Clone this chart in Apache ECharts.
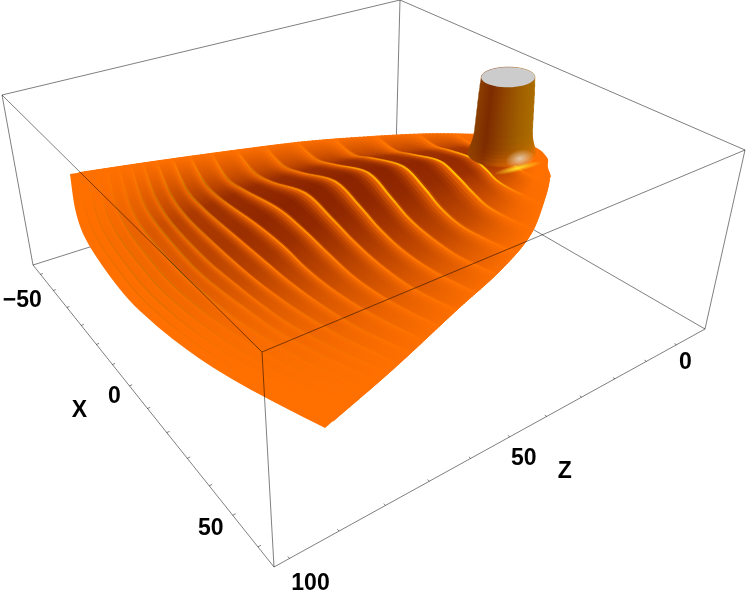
<!DOCTYPE html>
<html>
<head>
<meta charset="utf-8">
<style>
  html, body { margin: 0; background: #fff; }
  #chart { width: 747px; height: 600px; }
</style>
<script src="https://cdn.jsdelivr.net/npm/echarts@6/dist/echarts.min.js"></script>
</head>
<body>
<div id="chart"></div>
<script>
// axis ranges and ticks
const xRange = [-66, 66];
const zRange = [-10, 103];
const xTickLabels = [-50, 0, 50];
const zTickLabels = [0, 50, 100];
const xTickMarks = [-60, -50, -40, -30, -20, -10, 0, 10, 20, 30, 40, 50, 60];
const zTickMarks = [0, 10, 20, 30, 40, 50, 60, 70, 80, 90, 100];

// fan outline: x of both edges at given z, far edge shape across the fan
const edgeZ = [0, 3, 12, 25, 39, 55, 75, 93.2];
const edgeUpperX = [-9, -12.3, -20, -28.3, -36, -42.6, -50, -56.1];
const edgeLowerX = [16, 20.5, 29, 39.5, 46.8, 53, 61, 67.5];
const stationU = [0, 0.176, 0.313, 0.496, 0.606, 0.686, 0.778, 0.882, 1];
const stationBump = [0, 0.58, 0.86, 1, 0.955, 0.86, 0.69, 0.4, 0];
const planeHeight = 55;
const farZ = 103.5;

// z of every ridge crest along the middle of the fan
const crestZ = [6.5, 15, 25.5, 36, 45.5, 54, 61.5, 68, 73.5, 78, 82, 85.5, 88.5, 91.5, 94.5, 97, 99.3, 101.3];

// how dark the slope behind each crest is, per station across the fan (0-100)
const ridgeDark = [
  [0, 10, 50, 70, 60, 30, 5, 0, 0],
  [0, 40, 75, 85, 78, 50, 25, 5, 0],
  [0, 45, 80, 92, 85, 60, 35, 12, 0],
  [0, 45, 82, 97, 90, 70, 50, 22, 0],
  [0, 45, 85, 100, 93, 75, 55, 28, 3],
  [0, 45, 88, 100, 95, 78, 55, 28, 5],
  [0, 45, 90, 100, 95, 78, 52, 26, 5],
  [0, 45, 90, 100, 93, 74, 48, 22, 4],
  [0, 45, 88, 95, 85, 64, 40, 18, 3],
  [0, 45, 82, 85, 75, 54, 32, 14, 2],
  [0, 40, 72, 74, 62, 44, 26, 11, 1],
  [0, 34, 60, 58, 48, 33, 19, 8, 0],
  [0, 26, 46, 44, 35, 24, 13, 6, 0],
  [0, 18, 32, 30, 24, 16, 9, 4, 0],
  [0, 11, 19, 18, 15, 10, 6, 3, 0],
  [0, 6, 11, 11, 9, 6, 4, 2, 0],
  [0, 3, 6, 6, 5, 3, 2, 1, 0],
  [0, 1, 2, 2, 2, 1, 1, 0, 0]
];

// crest line strength per station: above 0 bright, below 0 dull
const ridgeGlint = [
  [0, 0, 0, 30, 60, 40, 0, 0, 0],
  [0, 0, 30, 85, 100, 70, 30, 0, 0],
  [0, -10, 30, 80, 100, 70, 25, 0, 0],
  [0, -20, 20, 70, 95, 60, 15, 0, 0],
  [0, -30, 10, 60, 80, 40, 5, 0, 0],
  [0, -40, -5, 40, 60, 30, 0, -5, 0],
  [0, -50, -15, 25, 45, 15, 0, -10, 0],
  [0, -60, -30, 10, 25, 10, 0, -10, 0],
  [0, -70, -40, 0, 15, 5, -5, -15, 0],
  [0, -70, -50, -5, 5, 0, -10, -15, 0],
  [0, -60, -60, -20, 0, -5, -15, -15, 0],
  [0, -50, -60, -35, -10, -10, -15, -15, 0],
  [0, -40, -60, -50, -25, -15, -15, -10, 0],
  [0, -30, -50, -50, -35, -20, -15, -10, 0],
  [0, -25, -45, -45, -35, -20, -10, -5, 0],
  [0, -20, -40, -40, -30, -20, -10, -5, 0],
  [0, -15, -30, -35, -30, -15, -5, 0, 0],
  [0, -10, -20, -25, -20, -10, -5, 0, 0]
];

// height of each crest above the flat plane, per station
const ridgeLift = [
  [0, 0, 1, 3, 2, 1, 0, 0, 0],
  [0, 0, 3, 6, 4, 1, 0, 0, 0],
  [0, 1, 6, 12, 9, 5, 1, 0, 0],
  [0, 2, 9, 16, 11, 5, 1, 0, 0],
  [0, 3, 10, 19, 13, 7, 3, 0, 0],
  [0, 3, 10, 20, 15, 9, 4, 1, 0],
  [0, 3, 9, 19, 15, 10, 5, 1, 0],
  [0, 2, 8, 15, 13, 9, 4, 1, 0],
  [0, 2, 6, 11, 10, 6, 3, 1, 0],
  [0, 1, 4, 7, 6, 4, 2, 0, 0],
  [0, 1, 2, 4, 3, 2, 1, 0, 0],
  [0, 1, 1, 2, 2, 1, 0, 0, 0],
  [0, 0, 1, 1, 1, 1, 0, 0, 0],
  [0, 0, 0, 1, 1, 0, 0, 0, 0],
  [0, 0, 0, 0, 0, 0, 0, 0, 0],
  [0, 0, 0, 0, 0, 0, 0, 0, 0],
  [0, 0, 0, 0, 0, 0, 0, 0, 0],
  [0, 0, 0, 0, 0, 0, 0, 0, 0]
];

// darkness going from a crest inwards to the next crest
const bandEdges = [0, 0.04, 0.12, 0.2, 0.3, 0.4, 0.5, 0.6, 0.7, 0.8, 0.9, 1];
const bandProfile = [0.75, 1, 1, 1, 1, 1, 0.92, 0.8, 0.6, 0.33, -0.2];

// flat part around the foot of the column
const skirtX = [5, 12, 16.1, 21, 16, -9, -5];
const skirtZ = [-5.3, -3.5, -0.2, 3.4, 8, 3, -3];

// the column
const stemCenter = [1.7, 3.1];
const stemHeight = [55, 57, 59, 61, 63, 66, 70, 75, 80, 85, 90, 95, 100];
const stemRadius = [8.8, 8.4, 8.1, 7.8, 7.6, 7.4, 7.3, 7.2, 7.1, 7, 6.9, 6.75, 6.6];
const stemBlend = [0.7, 0.5, 0.3, 0.18, 0.08, 0.03, 0, 0, 0, 0, 0, 0];

// box corners in the picture, the camera of the plot
const cameraTop = [[400, 0], [745, 150], [262, 352], [2, 95]];
const cameraBottom = [[396, 150], [705, 329], [274, 567], [33, 265]];

function squareToQuad(q) {
  const dx1 = q[1][0] - q[2][0], dx2 = q[3][0] - q[2][0], sx = q[0][0] - q[1][0] + q[2][0] - q[3][0];
  const dy1 = q[1][1] - q[2][1], dy2 = q[3][1] - q[2][1], sy = q[0][1] - q[1][1] + q[2][1] - q[3][1];
  const d = dx1 * dy2 - dx2 * dy1;
  const g = (sx * dy2 - dx2 * sy) / d, h = (dx1 * sy - sx * dy1) / d;
  return [q[1][0] - q[0][0] + g * q[1][0], q[3][0] - q[0][0] + h * q[3][0], q[0][0],
    q[1][1] - q[0][1] + g * q[1][1], q[3][1] - q[0][1] + h * q[3][1], q[0][1], g, h];
}

// x, z, height (0-100) to picture position
function project(x, z, h) {
  const c = 1 - h / 100;
  const m = squareToQuad(cameraTop.map((p, i) => [
    p[0] + (cameraBottom[i][0] - p[0]) * c,
    p[1] + (cameraBottom[i][1] - p[1]) * c
  ]));
  const a = (x - xRange[0]) / (xRange[1] - xRange[0]);
  const b = (z - zRange[0]) / (zRange[1] - zRange[0]);
  const w = m[6] * a + m[7] * b + 1;
  return [(m[0] * a + m[1] * b + m[2]) / w, (m[3] * a + m[4] * b + m[5]) / w];
}

// x on a fan edge at height z, smooth through the table
function edgeAt(xs, z) {
  const n = edgeZ.length;
  let i = 1;
  while (i < n - 1 && z > edgeZ[i]) i++;
  const h = edgeZ[i] - edgeZ[i - 1], t = Math.max(0, Math.min(1, (z - edgeZ[i - 1]) / h));
  const slope = j => {
    const a = Math.max(j - 1, 0), b = Math.min(j + 1, n - 1);
    return (xs[b] - xs[a]) / (edgeZ[b] - edgeZ[a]);
  };
  const m0 = slope(i - 1) * h, m1 = slope(i) * h, t2 = t * t, t3 = t2 * t;
  return (2 * t3 - 3 * t2 + 1) * xs[i - 1] + (t3 - 2 * t2 + t) * m0 + (-2 * t3 + 3 * t2) * xs[i] + (t3 - t2) * m1;
}

// the nine stations of one ring, zc is the z in the middle of the fan
function ringStations(zc, lift) {
  const zEnd = zc * 0.9;
  const xl = edgeAt(edgeUpperX, zEnd), xr = edgeAt(edgeLowerX, zEnd);
  return stationU.map((u, j) => project(xl + (xr - xl) * u, zEnd + (zc - zEnd) * stationBump[j], planeHeight + lift[j]));
}

function smoothLine(pts) {
  const out = [];
  for (let i = 0; i < pts.length - 1; i++) {
    const p0 = pts[Math.max(i - 1, 0)], p1 = pts[i], p2 = pts[i + 1], p3 = pts[Math.min(i + 2, pts.length - 1)];
    for (let s = 0; s < 5; s++) {
      const t = s / 5, t2 = t * t, t3 = t2 * t;
      out.push([0, 1].map(d => 0.5 * (2 * p1[d] + (p2[d] - p0[d]) * t + (2 * p0[d] - 5 * p1[d] + 4 * p2[d] - p3[d]) * t2 + (3 * p1[d] - p0[d] - 3 * p2[d] + p3[d]) * t3)));
    }
  }
  out.push(pts[pts.length - 1]);
  return out;
}

function orange(d) {
  return 'rgb(' + Math.round(Math.min(255, 255 - 117 * d)) + ',' + Math.round(112 - 76 * d) + ',0)';
}

// gradient running along a ring, one stop per station
function ringGradient(pts, colors) {
  const p0 = pts[0], p1 = pts[pts.length - 1];
  const dx = p1[0] - p0[0], dy = p1[1] - p0[1], len = dx * dx + dy * dy;
  let last = 0;
  const stops = pts.map((p, j) => {
    last = Math.max(last, Math.min(1, ((p[0] - p0[0]) * dx + (p[1] - p0[1]) * dy) / len));
    return { offset: last, color: colors[j] };
  });
  return new echarts.graphic.LinearGradient(p0[0], p0[1], p1[0], p1[1], stops, true);
}

const zeroLift = stationU.map(() => 0);
const bands = [];
crestZ.forEach((z, k) => {
  for (let b = bandProfile.length - 1; b >= 0; b--) bands.push([k, b]);
});

function renderBand(params, api) {
  const k = bands[params.dataIndex][0], b = bands[params.dataIndex][1];
  const zOuter = crestZ[k], zInner = k > 0 ? crestZ[k - 1] : 1;
  const liftOuter = ridgeLift[k], liftInner = k > 0 ? ridgeLift[k - 1] : zeroLift;
  const ringAt = f => ringStations(zOuter + (zInner - zOuter) * f,
    liftOuter.map((l, j) => l + (liftInner[j] - l) * f));
  const outer = ringAt(bandEdges[b]);
  const inner = ringAt(Math.min(1.02, bandEdges[b + 1] + 0.03));
  const colors = ridgeDark[k].map(d => orange(d / 100 * bandProfile[b]));
  const points = smoothLine(outer).concat(smoothLine(inner).reverse()).map(p => api.coord(p));
  const fill = ringGradient(outer, colors);
  return { type: 'polygon', shape: { points: points }, style: { fill: fill, stroke: fill, lineWidth: 0.8 } };
}

// whole fan in plain orange underneath the ridges
function renderFan(params, api) {
  const upper = [], lower = [];
  for (let z = 0.5; z <= 93.2; z += 3) {
    upper.push(project(edgeAt(edgeUpperX, z), z, planeHeight));
    lower.push(project(edgeAt(edgeLowerX, z), z, planeHeight));
  }
  const far = smoothLine(ringStations(farZ, zeroLift));
  const points = upper.concat(far, lower.reverse()).map(p => api.coord(p));
  return { type: 'polygon', shape: { points: points }, style: { fill: orange(0) } };
}

function renderSkirt(params, api) {
  const points = skirtX.map((x, i) => api.coord(project(x, skirtZ[i], planeHeight)));
  return { type: 'polygon', shape: { points: points, smooth: 0.4 }, style: { fill: orange(0) } };
}

function renderGlint(params, api) {
  const k = params.dataIndex;
  const pts = ringStations(crestZ[k], ridgeLift[k]);
  const colors = ridgeGlint[k].map(g => g >= 0
    ? 'rgba(255,205,0,' + g / 100 + ')'
    : 'rgba(150,105,0,' + (-g / 100) * 0.85 + ')');
  return {
    type: 'polyline',
    shape: { points: smoothLine(pts).map(p => api.coord(p)) },
    style: { fill: null, stroke: ringGradient(pts, colors), lineWidth: 1.5 }
  };
}

// one slice of the column, from ring i up to ring i+1
function circleAt(r, h) {
  const pts = [];
  for (let a = 0; a < 48; a++) {
    const t = a / 48 * Math.PI * 2;
    pts.push(project(stemCenter[0] + r * Math.cos(t), stemCenter[1] + r * Math.sin(t), h));
  }
  return pts;
}

function arcBetween(pts, front) {
  let li = 0, ri = 0;
  pts.forEach((p, i) => { if (p[0] < pts[li][0]) li = i; if (p[0] > pts[ri][0]) ri = i; });
  const n = pts.length, a = [], c = [];
  for (let i = li; i !== ri; i = (i + 1) % n) a.push(pts[i]);
  a.push(pts[ri]);
  for (let i = ri; i !== li; i = (i + 1) % n) c.push(pts[i]);
  c.push(pts[li]);
  const aFront = a[Math.floor(a.length / 2)][1] > c[Math.floor(c.length / 2)][1];
  if (front) return aFront ? a : c.reverse();
  return aFront ? c : a.reverse();
}

function mixToOrange(rgb, f) {
  return 'rgb(' + Math.round(rgb[0] + (255 - rgb[0]) * f) + ',' + Math.round(rgb[1] + (112 - rgb[1]) * f) + ',0)';
}

function renderStem(params, api) {
  const i = params.dataIndex;
  const lower = arcBetween(circleAt(stemRadius[i], stemHeight[i]), true);
  const upper = arcBetween(circleAt(stemRadius[i + 1], stemHeight[i + 1]), false);
  const x0 = lower[0][0], x1 = lower[lower.length - 1][0], y = lower[0][1];
  const blend = stemBlend[i];
  const fill = new echarts.graphic.LinearGradient(x0, y, x1, y, [
    { offset: 0, color: mixToOrange([138, 63, 0], blend * 0.1) },
    { offset: 0.2, color: mixToOrange([124, 43, 0], blend * 0.2) },
    { offset: 0.45, color: mixToOrange([143, 68, 0], blend * 0.6) },
    { offset: 0.75, color: mixToOrange([160, 95, 0], blend) },
    { offset: 1, color: mixToOrange([171, 108, 0], blend) }
  ], true);
  return { type: 'polygon', shape: { points: lower.concat(upper).map(p => api.coord(p)) }, style: { fill: fill, stroke: fill, lineWidth: 0.6 } };
}

function renderStemTop(params, api) {
  const points = circleAt(stemRadius[stemRadius.length - 1], 100).map(p => api.coord(p));
  return { type: 'polygon', shape: { points: points }, style: { fill: '#cccccc' } };
}

// white and yellow shine on the foot of the column
const shineX = [8.0, 11.8];
const shineZ = [2.2, 6.0];
function renderShine(params, api) {
  const i = params.dataIndex;
  const c = api.coord(project(shineX[i], shineZ[i], planeHeight));
  const col = i === 0 ? '232,222,210' : '255,225,40';
  return {
    type: 'circle',
    shape: { cx: 0, cy: 0, r: 1 },
    x: c[0], y: c[1],
    scaleX: i === 0 ? 15 : 25,
    scaleY: i === 0 ? 9 : 3.6,
    rotation: 0.24,
    style: {
      fill: new echarts.graphic.RadialGradient(0.5, 0.5, 0.5, [
        { offset: 0, color: 'rgba(' + col + ',' + (i === 0 ? 0.8 : 1) + ')' },
        { offset: 1, color: 'rgba(' + col + ',0)' }
      ])
    }
  };
}

// box edges as pairs of corners [x index, z index, height]
const edgesBehind = [
  [[0, 0, 0], [1, 0, 0]], [[0, 0, 0], [0, 1, 0]], [[0, 0, 0], [0, 0, 100]],
  [[0, 0, 100], [1, 0, 100]], [[0, 0, 100], [0, 1, 100]],
  [[0, 1, 0], [0, 1, 100]], [[1, 0, 0], [1, 0, 100]]
];
const edgesFront = [
  [[0, 1, 0], [1, 1, 0]], [[1, 0, 0], [1, 1, 0]], [[1, 1, 0], [1, 1, 100]],
  [[0, 1, 100], [1, 1, 100]], [[1, 0, 100], [1, 1, 100]]
];
const lineColor = 'rgba(0,0,0,0.5)';

function cornerAt(c) {
  return project(xRange[c[0]], zRange[c[1]], c[2]);
}
function renderEdge(list) {
  return function (params, api) {
    const e = list[params.dataIndex];
    const a = api.coord(cornerAt(e[0])), b = api.coord(cornerAt(e[1]));
    return { type: 'line', shape: { x1: a[0], y1: a[1], x2: b[0], y2: b[1] }, style: { stroke: lineColor, lineWidth: 1 } };
  };
}

function renderXTick(params, api) {
  const x = xTickMarks[params.dataIndex];
  const a = api.coord(project(x, zRange[1], 0)), b = api.coord(project(x, zRange[1] - 0.6, 0));
  return { type: 'line', shape: { x1: a[0], y1: a[1], x2: b[0], y2: b[1] }, style: { stroke: lineColor, lineWidth: 1 } };
}
function renderZTick(params, api) {
  const z = zTickMarks[params.dataIndex];
  const a = api.coord(project(xRange[1], z, 0)), b = api.coord(project(xRange[1] - 0.6, z, 0));
  return { type: 'line', shape: { x1: a[0], y1: a[1], x2: b[0], y2: b[1] }, style: { stroke: lineColor, lineWidth: 1 } };
}

// tick and axis captions, placed from the position on the axis
const labelFont = 'bold 23px "Liberation Sans"';
const captions = [
  { text: '\u221250', at: [xTickLabels[0], zRange[1]], dx: -31, dy: 10 },
  { text: String(xTickLabels[1]), at: [xTickLabels[1], zRange[1]], dx: -15, dy: 11 },
  { text: String(xTickLabels[2]), at: [xTickLabels[2], zRange[1]], dx: -22, dy: 13 },
  { text: 'X', at: [xTickLabels[1], zRange[1]], dx: -50, dy: 25 },
  { text: String(zTickLabels[0]), at: [xRange[1], zTickLabels[0]], dx: 9, dy: 18 },
  { text: String(zTickLabels[1]), at: [xRange[1], zTickLabels[1]], dx: 14, dy: 22 },
  { text: String(zTickLabels[2]), at: [xRange[1], zTickLabels[2]], dx: 21, dy: 25 },
  { text: 'Z', at: [xRange[1], zTickLabels[1]], dx: 55, dy: 35 }
];
function renderCaption(params, api) {
  const c = captions[params.dataIndex];
  const p = api.coord(project(c.at[0], c.at[1], 0));
  return {
    type: 'text',
    style: { text: c.text, x: p[0] + c.dx, y: p[1] + c.dy, align: 'center', verticalAlign: 'middle', font: labelFont, fill: '#000' }
  };
}

function layer(count, renderItem, z) {
  const data = [];
  for (let i = 0; i < count; i++) data.push([i, i]);
  return {
    type: 'custom', coordinateSystem: 'cartesian2d', data: data, renderItem: renderItem,
    clip: false, silent: true, animation: false, progressive: 0, z: z
  };
}

const chart = echarts.init(document.getElementById('chart'), null, { renderer: 'canvas' });
chart.setOption({
  animation: false,
  tooltip: { show: false },
  grid: { left: 0, right: 0, top: 0, bottom: 0 },
  xAxis: { type: 'value', min: 0, max: 747, show: false },
  yAxis: { type: 'value', min: 0, max: 600, inverse: true, show: false },
  series: [
    layer(edgesBehind.length, renderEdge(edgesBehind), 1),
    layer(1, renderFan, 2),
    layer(1, renderSkirt, 2),
    layer(bands.length, renderBand, 3),
    layer(crestZ.length, renderGlint, 5),
    layer(stemHeight.length - 1, renderStem, 6),
    layer(1, renderStemTop, 7),
    layer(shineX.length, renderShine, 8),
    layer(edgesFront.length, renderEdge(edgesFront), 9),
    layer(xTickMarks.length, renderXTick, 9),
    layer(zTickMarks.length, renderZTick, 9),
    layer(captions.length, renderCaption, 10)
  ]
});
</script>
</body>
</html>
